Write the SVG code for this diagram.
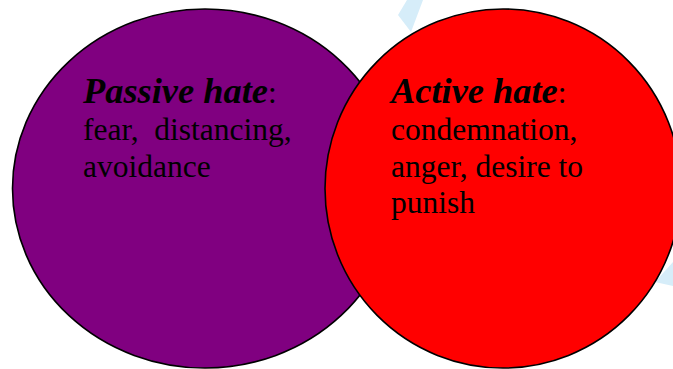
<svg xmlns="http://www.w3.org/2000/svg" width="673" height="369" viewBox="0 0 673 369">
<style>
.c{stroke:#000;stroke-width:1.6}
.h{font-family:"Liberation Serif","Times New Roman",serif;font-size:36.4px;font-weight:bold;font-style:italic;fill:#000}
.b{font-family:"Liberation Serif","Times New Roman",serif;font-size:31.5px;fill:#000}
.deco{fill:#d6edf9}
</style>
<rect width="673" height="369" fill="#fff"/>
<g id="background-decor">
<polygon class="deco" points="407,0 423,0 411,32 398,15"/>
<polygon class="deco" points="655,282 673,262 673,286"/>
</g>
<g id="passive-hate">
<ellipse class="c" cx="205" cy="188.5" rx="192.5" ry="179.5" fill="#800080"/>
</g>
<g id="active-hate">
<ellipse class="c" cx="503" cy="188.5" rx="178" ry="179.5" fill="#ff0000"/>
</g>
<g id="passive-hate-label">
<text x="83" y="103"><tspan class="h">Passive hate</tspan><tspan class="b">:</tspan></text>
<text class="b" x="83" y="140" xml:space="preserve">fear,  distancing,</text>
<text class="b" x="83" y="176.5">avoidance</text>
</g>
<g id="active-hate-label">
<text x="391" y="103"><tspan class="h">Active hate</tspan><tspan class="b">:</tspan></text>
<text class="b" x="391" y="140">condemnation,</text>
<text class="b" x="391" y="176.5">anger, desire to</text>
<text class="b" x="391" y="213">punish</text>
</g>
</svg>
